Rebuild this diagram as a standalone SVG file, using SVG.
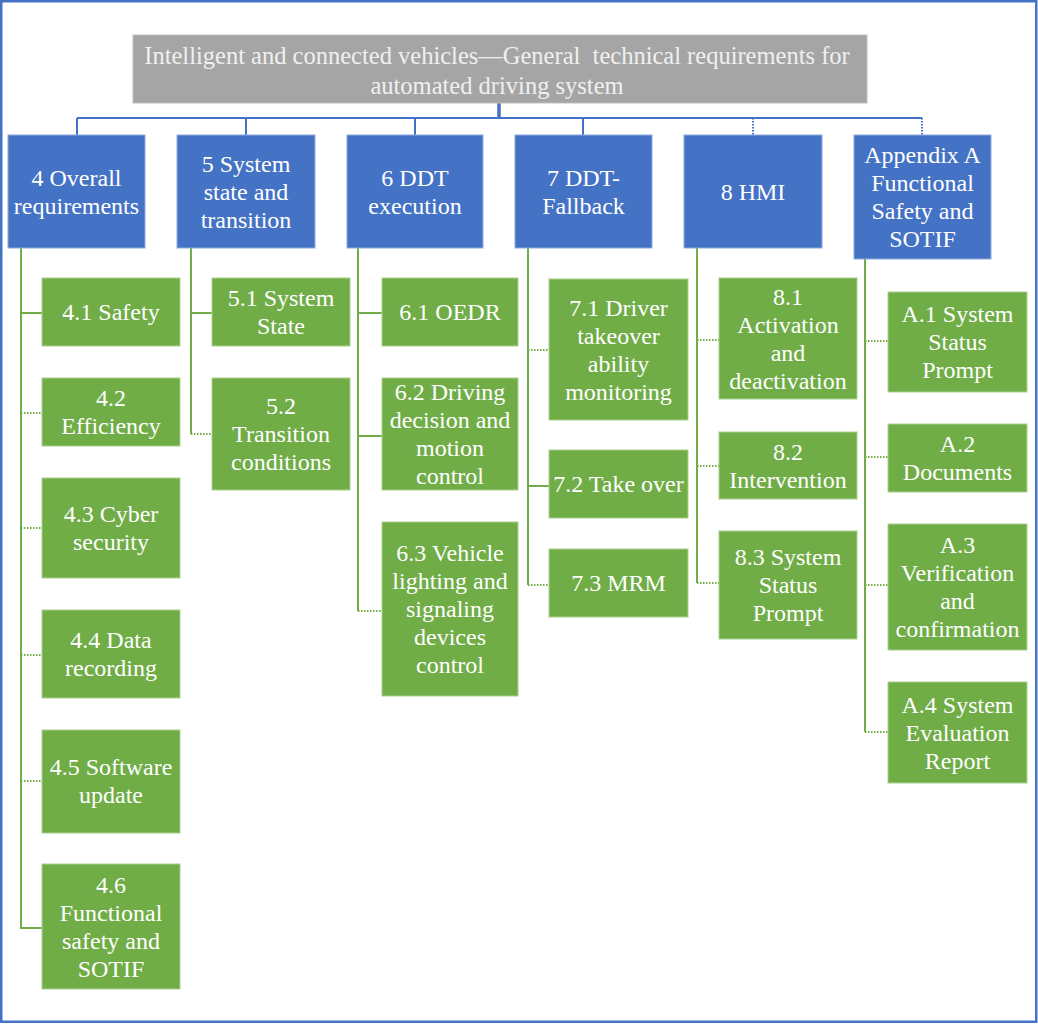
<svg xmlns="http://www.w3.org/2000/svg" width="1038" height="1024" viewBox="0 0 1038 1024">
<style>
.t{font-family:'Liberation Serif','DejaVu Serif',serif;font-size:24px;fill:#ffffff;text-anchor:middle;dominant-baseline:central}
.tt{font-family:'Liberation Serif','DejaVu Serif',serif;font-size:24.5px;fill:#F0F0F0;text-anchor:middle;dominant-baseline:central}
.blue{fill:#4472C4;stroke:#8FAADC;stroke-width:1}
.green{fill:#70AD47;stroke:#A9D18E;stroke-width:1}
.bl{stroke:#4472C4;stroke-width:2;fill:none}
.gl{stroke:#70AD47;stroke-width:2;fill:none}
.gd{stroke:#70AD47;stroke-width:2;fill:none;stroke-dasharray:1.5 1.5}
.bd{stroke:#4472C4;stroke-width:2;fill:none;stroke-dasharray:1.5 1.5}
</style>
<rect x="0" y="0" width="1038" height="1024" fill="#ffffff"/>
<rect x="1.25" y="1.25" width="1035" height="1020.5" fill="none" stroke="#4472C4" stroke-width="2.5"/>
<g id="connectors">
<line x1="499" y1="103" x2="499" y2="118" stroke="#4472C4" stroke-width="3.5"/>
<line class="bl" x1="77" y1="118" x2="922" y2="118"/>
<line class="bl" x1="77" y1="118" x2="77" y2="135"/>
<line class="bl" x1="246" y1="118" x2="246" y2="135"/>
<line class="bl" x1="415" y1="118" x2="415" y2="135"/>
<line class="bl" x1="583" y1="118" x2="583" y2="135"/>
<line class="bd" x1="753" y1="118" x2="753" y2="135"/>
<line class="bd" x1="922" y1="118" x2="922" y2="135"/>
<line class="gl" x1="21" y1="248" x2="21" y2="928"/>
<line class="gl" x1="21" y1="313" x2="42" y2="313"/>
<line class="gd" x1="21" y1="413" x2="42" y2="413"/>
<line class="gd" x1="21" y1="528" x2="42" y2="528"/>
<line class="gd" x1="21" y1="655" x2="42" y2="655"/>
<line class="gd" x1="21" y1="781" x2="42" y2="781"/>
<line class="gl" x1="20" y1="928" x2="42" y2="928"/>
<line class="gl" x1="191" y1="248" x2="191" y2="434"/>
<line class="gl" x1="191" y1="313" x2="212" y2="313"/>
<line class="gd" x1="191" y1="434" x2="212" y2="434"/>
<line class="gl" x1="358" y1="248" x2="358" y2="611"/>
<line class="gl" x1="358" y1="313" x2="382" y2="313"/>
<line class="gl" x1="358" y1="436" x2="382" y2="436"/>
<line class="gd" x1="358" y1="611" x2="382" y2="611"/>
<line class="gl" x1="528" y1="248" x2="528" y2="585"/>
<line class="gd" x1="528" y1="350" x2="549" y2="350"/>
<line class="gl" x1="528" y1="486" x2="549" y2="486"/>
<line class="gd" x1="528" y1="585" x2="549" y2="585"/>
<line class="gl" x1="697" y1="248" x2="697" y2="583"/>
<line class="gd" x1="697" y1="340" x2="719" y2="340"/>
<line class="gd" x1="697" y1="466" x2="719" y2="466"/>
<line class="gd" x1="697" y1="583" x2="719" y2="583"/>
<line class="gl" x1="865" y1="259" x2="865" y2="732"/>
<line class="gd" x1="865" y1="341" x2="888" y2="341"/>
<line class="gd" x1="865" y1="457" x2="888" y2="457"/>
<line class="gd" x1="865" y1="585" x2="888" y2="585"/>
<line class="gd" x1="865" y1="732" x2="888" y2="732"/>
</g>
<g id="title">
<rect x="133" y="35" width="734" height="68" fill="#A5A5A5" stroke="#BFBFBF" stroke-width="1"/>
<text class="tt" x="497" y="55">Intelligent and connected vehicles—General&#160; technical requirements for</text>
<text class="tt" x="497" y="85">automated driving system</text>
</g>
<g id="n4"><rect class="blue" x="8" y="135" width="137" height="113"/>
<text class="t"><tspan x="76.5" y="177.5">4 Overall</tspan><tspan x="76.5" y="205.5">requirements</tspan></text></g>
<g id="n5"><rect class="blue" x="177" y="135" width="138" height="113"/>
<text class="t"><tspan x="246" y="163.5">5 System</tspan><tspan x="246" y="191.5">state and</tspan><tspan x="246" y="219.5">transition</tspan></text></g>
<g id="n6"><rect class="blue" x="347" y="135" width="136" height="113"/>
<text class="t"><tspan x="415" y="177.5">6 DDT</tspan><tspan x="415" y="205.5">execution</tspan></text></g>
<g id="n7"><rect class="blue" x="515" y="135" width="137" height="113"/>
<text class="t"><tspan x="583.5" y="177.5">7 DDT-</tspan><tspan x="583.5" y="205.5">Fallback</tspan></text></g>
<g id="n8"><rect class="blue" x="684" y="135" width="138" height="113"/>
<text class="t"><tspan x="753" y="191.5">8 HMI</tspan></text></g>
<g id="nA"><rect class="blue" x="854" y="135" width="137" height="124"/>
<text class="t"><tspan x="922.5" y="155">Appendix A</tspan><tspan x="922.5" y="183">Functional</tspan><tspan x="922.5" y="211">Safety and</tspan><tspan x="922.5" y="239">SOTIF</tspan></text></g>
<g id="n4_1"><rect class="green" x="42" y="278" width="138" height="68"/>
<text class="t"><tspan x="111" y="312">4.1 Safety</tspan></text></g>
<g id="n4_2"><rect class="green" x="42" y="378" width="138" height="68"/>
<text class="t"><tspan x="111" y="398">4.2</tspan><tspan x="111" y="426">Efficiency</tspan></text></g>
<g id="n4_3"><rect class="green" x="42" y="478" width="138" height="100"/>
<text class="t"><tspan x="111" y="514">4.3 Cyber</tspan><tspan x="111" y="542">security</tspan></text></g>
<g id="n4_4"><rect class="green" x="42" y="610" width="138" height="88"/>
<text class="t"><tspan x="111" y="640">4.4 Data</tspan><tspan x="111" y="668">recording</tspan></text></g>
<g id="n4_5"><rect class="green" x="42" y="730" width="138" height="103"/>
<text class="t"><tspan x="111" y="767">4.5 Software</tspan><tspan x="111" y="795">update</tspan></text></g>
<g id="n4_6"><rect class="green" x="42" y="864" width="138" height="125"/>
<text class="t"><tspan x="111" y="884.5">4.6</tspan><tspan x="111" y="912.5">Functional</tspan><tspan x="111" y="940.5">safety and</tspan><tspan x="111" y="968.5">SOTIF</tspan></text></g>
<g id="n5_1"><rect class="green" x="212" y="278" width="138" height="68"/>
<text class="t"><tspan x="281" y="298">5.1 System</tspan><tspan x="281" y="326">State</tspan></text></g>
<g id="n5_2"><rect class="green" x="212" y="378" width="138" height="112"/>
<text class="t"><tspan x="281" y="406">5.2</tspan><tspan x="281" y="434">Transition</tspan><tspan x="281" y="462">conditions</tspan></text></g>
<g id="n6_1"><rect class="green" x="382" y="278" width="136" height="68"/>
<text class="t"><tspan x="450" y="312">6.1 OEDR</tspan></text></g>
<g id="n6_2"><rect class="green" x="382" y="378" width="136" height="112"/>
<text class="t"><tspan x="450" y="392">6.2 Driving</tspan><tspan x="450" y="420">decision and</tspan><tspan x="450" y="448">motion</tspan><tspan x="450" y="476">control</tspan></text></g>
<g id="n6_3"><rect class="green" x="382" y="522" width="136" height="174"/>
<text class="t"><tspan x="450" y="553">6.3 Vehicle</tspan><tspan x="450" y="581">lighting and</tspan><tspan x="450" y="609">signaling</tspan><tspan x="450" y="637">devices</tspan><tspan x="450" y="665">control</tspan></text></g>
<g id="n7_1"><rect class="green" x="549" y="279" width="139" height="141"/>
<text class="t"><tspan x="618.5" y="307.5">7.1 Driver</tspan><tspan x="618.5" y="335.5">takeover</tspan><tspan x="618.5" y="363.5">ability</tspan><tspan x="618.5" y="391.5">monitoring</tspan></text></g>
<g id="n7_2"><rect class="green" x="549" y="450" width="139" height="68"/>
<text class="t"><tspan x="618.5" y="484">7.2 Take over</tspan></text></g>
<g id="n7_3"><rect class="green" x="549" y="549" width="139" height="68"/>
<text class="t"><tspan x="618.5" y="583">7.3 MRM</tspan></text></g>
<g id="n8_1"><rect class="green" x="719" y="278" width="138" height="121"/>
<text class="t"><tspan x="788" y="296.5">8.1</tspan><tspan x="788" y="324.5">Activation</tspan><tspan x="788" y="352.5">and</tspan><tspan x="788" y="380.5">deactivation</tspan></text></g>
<g id="n8_2"><rect class="green" x="719" y="432" width="138" height="67"/>
<text class="t"><tspan x="788" y="451.5">8.2</tspan><tspan x="788" y="479.5">Intervention</tspan></text></g>
<g id="n8_3"><rect class="green" x="719" y="531" width="138" height="108"/>
<text class="t"><tspan x="788" y="557">8.3 System</tspan><tspan x="788" y="585">Status</tspan><tspan x="788" y="613">Prompt</tspan></text></g>
<g id="nA_1"><rect class="green" x="888" y="292" width="139" height="100"/>
<text class="t"><tspan x="957.5" y="314">A.1 System</tspan><tspan x="957.5" y="342">Status</tspan><tspan x="957.5" y="370">Prompt</tspan></text></g>
<g id="nA_2"><rect class="green" x="888" y="424" width="139" height="68"/>
<text class="t"><tspan x="957.5" y="444">A.2</tspan><tspan x="957.5" y="472">Documents</tspan></text></g>
<g id="nA_3"><rect class="green" x="888" y="524" width="139" height="126"/>
<text class="t"><tspan x="957.5" y="545">A.3</tspan><tspan x="957.5" y="573">Verification</tspan><tspan x="957.5" y="601">and</tspan><tspan x="957.5" y="629">confirmation</tspan></text></g>
<g id="nA_4"><rect class="green" x="888" y="682" width="139" height="101"/>
<text class="t"><tspan x="957.5" y="704.5">A.4 System</tspan><tspan x="957.5" y="732.5">Evaluation</tspan><tspan x="957.5" y="760.5">Report</tspan></text></g>
</svg>
